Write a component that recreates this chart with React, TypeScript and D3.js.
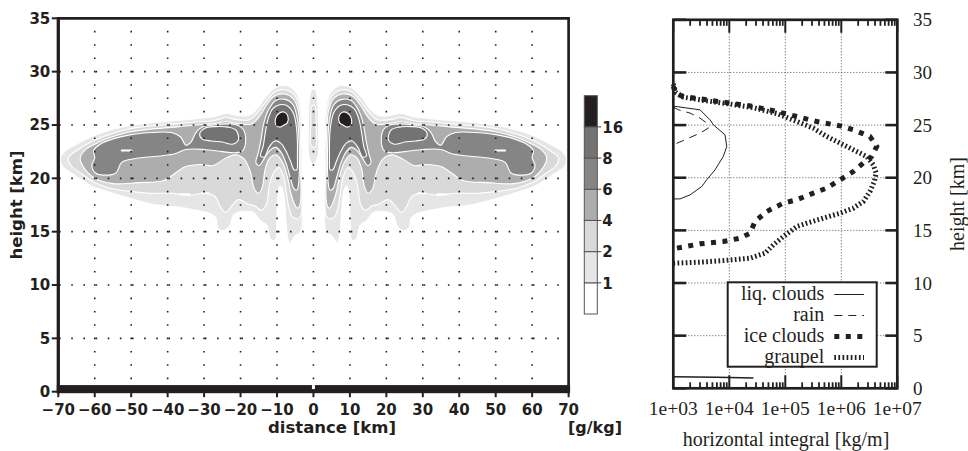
import React from "react";
import * as d3 from "d3";

type Pt = [number, number];

// ---------- left panel: mixing ratio [g/kg], distance vs height ----------
const levels = [1, 2, 4, 6, 8, 16];
// fill of each band: <1, 1-2, 2-4, 4-6, 6-8, 8-16, >16
const bandColors = ["#ffffff", "#e6e6e6", "#d9d9d9", "#adadad", "#858585", "#737373", "#231f20"];

// contour outlines of the right half (x >= 0), [km, km]; the field is mirrored about x = 0
const lvl1Half: Pt[][] = [[
  [3.3, 15.2], [3.0, 19.0], [3.0, 23.5], [3.4, 26.6], [4.8, 28.1], [7.5, 28.7], [10.5, 28.5],
  [13.2, 27.6], [15.5, 26.5], [17.8, 25.9], [21.0, 25.9], [24.0, 26.1], [27.0, 25.8], [32.0, 25.6],
  [38.0, 25.4], [45.0, 25.2], [51.0, 24.9], [56.0, 24.5], [61.0, 23.9], [65.0, 23.2], [68.0, 22.6],
  [69.4, 21.9], [68.8, 21.1], [66.0, 20.4], [61.0, 19.3], [55.0, 18.6], [49.0, 18.0], [43.0, 17.5],
  [37.0, 17.3], [32.0, 17.0], [28.5, 16.7], [26.8, 16.3], [26.2, 15.3], [24.5, 15.1], [23.0, 15.5],
  [21.8, 16.6], [19.0, 16.9], [16.5, 16.8], [14.5, 16.0], [12.8, 15.6], [11.8, 14.3], [10.5, 14.2],
  [10.1, 15.8], [9.8, 18.0], [9.2, 19.3], [8.5, 19.0], [7.8, 17.3], [7.3, 15.0], [6.6, 13.9],
  [5.9, 14.2], [4.8, 14.7], [4.0, 14.8],
]];
const lvl2Half: Pt[][] = [[
  [3.5, 16.5], [3.2, 20.0], [3.3, 24.0], [3.8, 26.6], [5.2, 27.8], [7.8, 28.3], [10.6, 28.1],
  [13.0, 27.2], [15.2, 26.2], [17.5, 25.5], [21.0, 25.5], [24.0, 25.7], [27.5, 25.4], [32.0, 25.3],
  [38.0, 25.1], [45.0, 24.9], [51.0, 24.6], [56.0, 24.1], [60.5, 23.5], [64.5, 22.7], [67.3, 21.9],
  [66.5, 21.2], [63.5, 20.4], [60.0, 19.6], [56.0, 19.1], [51.0, 18.8], [45.0, 18.6], [39.0, 18.6],
  [34.0, 18.4], [30.0, 18.6], [27.0, 18.3], [25.5, 17.3], [24.0, 16.8], [22.5, 17.4], [20.5, 18.0],
  [18.0, 17.6], [16.0, 17.4], [14.3, 17.0], [13.0, 17.5], [12.0, 19.5], [10.8, 20.6], [9.5, 21.0],
  [8.2, 20.2], [7.4, 18.6], [6.7, 17.2], [5.8, 16.4], [4.5, 16.2],
]];
const lvl4Half: Pt[][] = [[
  [3.7, 17.5], [3.5, 21.0], [3.6, 24.0], [4.2, 26.4], [5.6, 27.5], [8.0, 27.9], [10.8, 27.7],
  [12.8, 26.9], [14.8, 25.8], [17.0, 25.1], [20.0, 25.1], [24.0, 25.3], [28.0, 25.1], [32.0, 25.0],
  [38.0, 24.8], [45.0, 24.6], [51.0, 24.3], [56.0, 23.8], [60.0, 23.2], [62.8, 22.6], [64.0, 21.9],
  [63.0, 21.0], [60.0, 20.0], [55.0, 19.5], [48.0, 19.6], [41.0, 19.8], [37.5, 20.6], [35.0, 21.1],
  [31.0, 21.3], [27.5, 21.2], [24.5, 21.8], [21.5, 22.2], [19.0, 21.8], [17.3, 20.6], [16.2, 19.0],
  [15.0, 18.6], [14.0, 19.2], [13.3, 20.8], [12.0, 21.9], [10.2, 22.2], [8.5, 21.5], [7.2, 20.2],
  [6.2, 18.6], [5.2, 17.6], [4.4, 17.2],
]];
const lvl6Half: Pt[][] = [
  [
    [4.0, 19.8], [3.9, 23.0], [4.4, 25.5], [5.6, 26.9], [7.8, 27.4], [10.3, 27.3], [12.2, 26.5],
    [13.6, 25.2], [14.4, 23.6], [15.2, 22.3], [15.8, 21.5], [14.9, 21.2], [13.6, 21.8], [12.0, 22.6],
    [10.3, 22.9], [8.8, 22.4], [7.5, 21.4], [6.3, 20.0], [5.3, 19.0], [4.5, 18.9],
  ],
  [
    [18.6, 23.6], [19.3, 24.6], [21.0, 25.0], [24.0, 25.1], [27.5, 25.0], [30.5, 24.8], [32.2, 24.3],
    [33.6, 23.4], [35.0, 23.1], [36.5, 23.9], [39.0, 24.3], [44.0, 24.3], [50.0, 24.1], [55.0, 23.7],
    [58.5, 23.2], [60.3, 22.6], [60.0, 21.9], [60.8, 21.2], [59.8, 20.5], [57.5, 20.3], [54.2, 20.5],
    [52.6, 21.5], [48.0, 21.9], [42.0, 22.1], [38.0, 22.3], [35.0, 22.7], [30.0, 22.7], [25.0, 22.5],
    [21.5, 22.4], [19.4, 22.6],
  ],
];
const lvl8Half: Pt[][] = [
  [
    [4.4, 22.0], [4.6, 24.6], [5.5, 26.1], [7.2, 26.8], [9.3, 26.9], [11.2, 26.5], [12.5, 25.5],
    [13.2, 24.3], [13.8, 23.0], [14.5, 22.1], [13.5, 22.0], [12.2, 22.9], [10.6, 23.5], [9.0, 23.3],
    [7.6, 22.6], [6.3, 21.6], [5.3, 20.8], [4.6, 20.8],
  ],
  [
    [20.6, 23.6], [21.2, 24.5], [23.5, 24.8], [27.0, 24.85], [29.8, 24.7], [31.2, 24.2], [30.6, 23.7],
    [28.0, 23.5], [25.0, 23.4], [22.2, 23.2],
  ],
];
const lvl16Half: Pt[][] = [[
  [7.0, 25.8], [7.9, 26.2], [9.4, 26.1], [10.4, 25.6], [10.3, 25.0], [9.2, 24.8], [8.1, 25.0], [7.2, 25.2],
]];
// thin column over the centre (not mirrored)
const lvl1Mid: Pt[][] = [[
  [-1.2, 22.0], [-1.4, 24.5], [-1.2, 27.0], [-0.5, 28.3], [0.5, 28.3], [1.2, 27.0], [1.4, 24.5], [1.2, 22.0], [0, 21.3],
]];
const lvl2Mid: Pt[][] = [[[-0.6, 23.0], [-0.7, 25.0], [-0.4, 26.8], [0.4, 26.8], [0.7, 25.0], [0.6, 23.0]]];
// small closed contours (holes) drawn as white dashes: [x from, x to, height], right half
const holesHalf: [number, number, number][] = [[49.9, 52.6, 22.6], [34.0, 36.5, 18.5], [28.7, 30.6, 18.6]];

const distanceTicks = [-70, -60, -50, -40, -30, -20, -10, 0, 10, 20, 30, 40, 50, 60, 70];
const heightTicks = [0, 5, 10, 15, 20, 25, 30, 35];
const distanceGrid = [-60, -50, -40, -30, -20, -10, 0, 10, 20, 30, 40, 50, 60];
const heightGrid = [5, 10, 15, 20, 25, 30];

// ---------- right panel: horizontal integral [kg/m] vs height [km] ----------
const integralTicks = [1e3, 1e4, 1e5, 1e6, 1e7];
const integralLabels = ["1e+03", "1e+04", "1e+05", "1e+06", "1e+07"];
const integralGrid = [1e4, 1e5, 1e6];

const liqClouds: Pt[] = [
  [1000, 26.8], [3000, 26.45], [4520, 25.5], [5180, 25.03], [8380, 24.08], [9000, 22.97], [7820, 22.02],
  [5560, 20.75], [3950, 19.8], [3210, 19.16], [1990, 18.37], [1320, 17.99], [1000, 17.99],
];
const liqCloudsLow: Pt[] = [[1000, 1.1], [6000, 1.05], [27000, 0.98]];
const rain: Pt[] = [
  [1000, 26.7], [1230, 26.45], [1990, 26.14], [3000, 25.67], [3950, 25.19], [4220, 24.71], [3000, 24.24],
  [1730, 23.67], [1000, 23.13],
];
const iceClouds: Pt[] = [
  [1000, 28.7], [1100, 28.0], [1510, 27.72], [3945, 27.4], [10280, 27.09], [26800, 26.77], [70100, 26.29],
  [160000, 25.82], [364000, 25.34], [948000, 24.93], [1.64e6, 24.55], [3.25e6, 23.92], [4.29e6, 22.97],
  [3.49e6, 22.02], [2.47e6, 21.39], [1.64e6, 20.59], [9.48e5, 19.8], [5.48e5, 19.01], [3.16e5, 18.54],
  [1.6e5, 17.9], [92000, 17.59], [46600, 16.79], [28800, 15.84], [23400, 14.73], [15500, 14.26],
  [7820, 13.94], [3000, 13.72], [1150, 13.31], [1000, 13.3],
];
const graupel: Pt[] = [
  [1000, 28.9], [1100, 28.1], [1510, 27.65], [3945, 27.3], [10280, 27.0], [26800, 26.65], [70100, 26.1],
  [1.9e5, 25.19], [3.16e5, 24.71], [5.48e5, 23.92], [9.48e5, 23.29], [1.64e6, 22.65], [2.84e6, 22.02],
  [3.73e6, 21.23], [4.19e6, 20.44], [3.88e6, 19.64], [3.25e6, 18.69], [2.47e6, 17.74], [1.64e6, 17.11],
  [9.48e5, 16.63], [4.77e5, 16.16], [2.41e5, 15.68], [1.6e5, 15.36], [92000, 14.41], [61100, 13.62],
  [43500, 12.83], [23400, 12.36], [7820, 12.13], [3000, 11.98], [1000, 11.88],
];

const ink = "#231f20";
const sans = "'DejaVu Sans', Verdana, sans-serif";
const serif = "'Liberation Serif', 'DejaVu Serif', serif";

const styles: Record<string, { width: number; dash?: string; cap?: "butt" | "round" }> = {
  liq: { width: 1 },
  rain: { width: 1, dash: "8 6" },
  ice: { width: 5, dash: "5 6.5" },
  graupel: { width: 5, dash: "1.7 2.4" },
};
const legendItems = [
  { label: "liq. clouds", key: "liq" },
  { label: "rain", key: "rain" },
  { label: "ice clouds", key: "ice" },
  { label: "graupel", key: "graupel" },
];

export default function App() {
  // left panel scales
  const xL = d3.scaleLinear().domain([-70, 70]).range([58.3, 568.6]);
  const yL = d3.scaleLinear().domain([0, 35]).range([391.7, 18.3]);
  const contour = d3
    .line<Pt>()
    .x((d) => xL(d[0]))
    .y((d) => yL(d[1]))
    .curve(d3.curveCatmullRomClosed.alpha(0.5));
  const mirror = (polys: Pt[][]) => polys.map((p) => p.map(([x, y]) => [-x, y] as Pt));
  const layers = [
    { band: 1, polys: [...lvl1Half, ...mirror(lvl1Half), ...lvl1Mid] },
    { band: 2, polys: [...lvl2Half, ...mirror(lvl2Half), ...lvl2Mid] },
    { band: 3, polys: [...lvl4Half, ...mirror(lvl4Half)] },
    { band: 4, polys: [...lvl6Half, ...mirror(lvl6Half)] },
    { band: 5, polys: [...lvl8Half, ...mirror(lvl8Half)] },
    { band: 6, polys: [...lvl16Half, ...mirror(lvl16Half)] },
  ];
  const holes = [...holesHalf, ...holesHalf.map(([a, b, h]) => [-b, -a, h] as [number, number, number])];

  // colour bar
  const cbY = d3.scaleLinear().domain([0, 7]).range([314, 95.7]);
  const cbX0 = 584.3;
  const cbW = 13;

  // right panel scales
  const xR = d3.scaleLog().domain([1e3, 1e7]).range([673.3, 897.3]);
  const yR = d3.scaleLinear().domain([0, 35]).range([388.3, 19.8]);
  const profile = d3
    .line<Pt>()
    .x((d) => xR(d[0]))
    .y((d) => yR(d[1]));
  const minorTicks = xR.ticks().filter((t) => Math.abs(Math.log10(t) - Math.round(Math.log10(t))) > 1e-6);

  const fmt = (d: number) => (d < 0 ? `\u2212${-d}` : `${d}`);

  return (
    <svg width={968} height={451} style={{ position: "absolute", left: 0, top: 0, background: "#fff" }}>
      {/* ---- contour field ---- */}
      <g>
        {layers.map((l) =>
          l.polys.map((p, i) => (
            <path key={`${l.band}-${i}`} d={contour(p) ?? ""} fill={bandColors[l.band]} stroke="#fff" strokeWidth={1.1} />
          ))
        )}
        {holes.map(([a, b, h], i) => (
          <line key={i} x1={xL(a)} x2={xL(b)} y1={yL(h)} y2={yL(h)} stroke="#fff" strokeWidth={2} strokeLinecap="round" />
        ))}
      </g>

      {/* dotted grid */}
      <g stroke={ink} strokeWidth={1.6}>
        {heightGrid.map((h) => (
          <line key={h} x1={xL(-70)} x2={xL(70)} y1={yL(h)} y2={yL(h)} strokeDasharray={`1.6 ${(xL(10) - xL(0)) / 3 - 1.6}`} strokeDashoffset={-0.8} />
        ))}
        {distanceGrid.map((d) => (
          <line key={d} x1={xL(d)} x2={xL(d)} y1={yL(0)} y2={yL(35)} strokeDasharray={`1.6 ${(yL(0) - yL(5)) / 4 - 1.6}`} strokeDashoffset={0.8} />
        ))}
      </g>

      {/* ground bar and frame */}
      <rect x={xL(-70) - 1.5} y={yL(0.62)} width={xL(70) - xL(-70) + 3} height={yL(0) - yL(0.62) + 1.5} fill={ink} />
      <rect x={xL(0) - 1.5} y={yL(0.62)} width={3} height={4} fill="#fff" />
      <line x1={xL(-70)} x2={xL(70) + 1.3} y1={yL(35)} y2={yL(35)} stroke={ink} strokeWidth={2.7} />
      <line x1={xL(70)} x2={xL(70)} y1={yL(35)} y2={yL(0)} stroke={ink} strokeWidth={2.7} />
      <line x1={xL(-70)} x2={xL(-70)} y1={yL(35) - 1.3} y2={yL(0) + 1.5} stroke={ink} strokeWidth={3.3} />

      {/* left axis */}
      <g fontFamily={sans} fontWeight="bold" fontSize={15} fill={ink}>
        {heightTicks.map((h) => (
          <g key={h}>
            <line x1={xL(-70) - 6.5} x2={xL(-70)} y1={yL(h)} y2={yL(h)} stroke={ink} strokeWidth={2} />
            <text x={xL(-70) - 8} y={yL(h)} dy="0.36em" textAnchor="end">{h}</text>
          </g>
        ))}
        {distanceTicks.map((d) => (
          <g key={d}>
            <line x1={xL(d)} x2={xL(d)} y1={yL(0) + 1} y2={yL(0) + 5.5} stroke={ink} strokeWidth={2} />
            <text x={xL(d)} y={415} textAnchor="middle">{fmt(d)}</text>
          </g>
        ))}
        <text x={332} y={433} textAnchor="middle" fontSize={16.5}>distance [km]</text>
        <text transform={`translate(22,${(yL(0) + yL(35)) / 2}) rotate(-90)`} textAnchor="middle" fontSize={16.5}>height [km]</text>
        <text x={568} y={433} fontSize={16}>[g/kg]</text>
      </g>

      {/* colour bar */}
      <g>
        {bandColors.map((c, i) => (
          <rect key={i} x={cbX0} y={cbY(i + 1)} width={cbW} height={cbY(i) - cbY(i + 1)} fill={c} stroke="#555" strokeWidth={1} />
        ))}
        {levels.map((lv, i) => (
          <g key={lv}>
            <line x1={cbX0 + cbW} x2={cbX0 + cbW + 4} y1={cbY(i + 1)} y2={cbY(i + 1)} stroke="#444" strokeWidth={1} />
            <text x={cbX0 + cbW + 5} y={cbY(i + 1)} dy="0.38em" fontFamily={sans} fontWeight="bold" fontSize={15} fill={ink}>{lv}</text>
          </g>
        ))}
      </g>

      {/* ---- right panel ---- */}
      <g stroke="#555" strokeWidth={1} strokeDasharray="1 2">
        {heightGrid.map((h) => (
          <line key={h} x1={xR(1e3)} x2={xR(1e7)} y1={yR(h)} y2={yR(h)} />
        ))}
        {integralGrid.map((v) => (
          <line key={v} x1={xR(v)} x2={xR(v)} y1={yR(0)} y2={yR(35)} />
        ))}
      </g>
      <g fill="none" stroke={ink}>
        <path d={profile(liqClouds) ?? ""} strokeWidth={styles.liq.width} />
        <path d={profile(liqCloudsLow) ?? ""} strokeWidth={1.6} />
        <path d={profile(rain) ?? ""} strokeWidth={styles.rain.width} strokeDasharray={styles.rain.dash} />
        <path d={profile(graupel) ?? ""} strokeWidth={styles.graupel.width} strokeDasharray={styles.graupel.dash} />
        <path d={profile(iceClouds) ?? ""} strokeWidth={styles.ice.width} strokeDasharray={styles.ice.dash} />
      </g>
      <g stroke={ink}>
        {heightTicks.map((h) => (
          <g key={h} strokeWidth={2.6}>
            <line x1={xR(1e3)} x2={xR(1e3) + 13} y1={yR(h)} y2={yR(h)} />
            <line x1={xR(1e7) - 12} x2={xR(1e7)} y1={yR(h)} y2={yR(h)} />
          </g>
        ))}
        {integralTicks.map((v) => (
          <g key={v} strokeWidth={2}>
            <line x1={xR(v)} x2={xR(v)} y1={yR(35)} y2={yR(35) + 13} />
            <line x1={xR(v)} x2={xR(v)} y1={yR(0)} y2={yR(0) - 13} />
          </g>
        ))}
        {minorTicks.map((v) => (
          <g key={v} strokeWidth={1.8}>
            <line x1={xR(v)} x2={xR(v)} y1={yR(35)} y2={yR(35) + 6} />
            <line x1={xR(v)} x2={xR(v)} y1={yR(0)} y2={yR(0) - 6} />
          </g>
        ))}
        <rect x={xR(1e3)} y={yR(35)} width={xR(1e7) - xR(1e3)} height={yR(0) - yR(35)} fill="none" strokeWidth={2.7} />
      </g>

      {/* legend */}
      <g fontFamily={serif} fontSize={20} fill={ink}>
        <rect x={727.7} y={282.3} width={149} height={84.4} fill="#fff" stroke={ink} strokeWidth={2} />
        {legendItems.map((it, i) => {
          const s = styles[it.key];
          const y = 300 + i * 21;
          return (
            <g key={it.key}>
              <text x={824.3} y={y} textAnchor="end">{it.label}</text>
              <line x1={834.3} x2={864} y1={y - 5.5} y2={y - 5.5} stroke={ink} strokeWidth={s.width} strokeDasharray={s.dash} />
            </g>
          );
        })}
      </g>

      {/* right axis labels */}
      <g fontFamily={serif} fill={ink}>
        {heightTicks.map((h) => (
          <text key={h} x={913} y={yR(h)} dy="0.35em" fontSize={19}>{h}</text>
        ))}
        {integralTicks.map((v, i) => (
          <text key={v} x={xR(v)} y={415} textAnchor="middle" fontSize={19.5}>{integralLabels[i]}</text>
        ))}
        <text x={786} y={446} textAnchor="middle" fontSize={20}>horizontal integral [kg/m]</text>
        <text transform={`translate(964,${(yR(0) + yR(35)) / 2}) rotate(-90)`} textAnchor="middle" fontSize={20}>height [km]</text>
      </g>
    </svg>
  );
}
